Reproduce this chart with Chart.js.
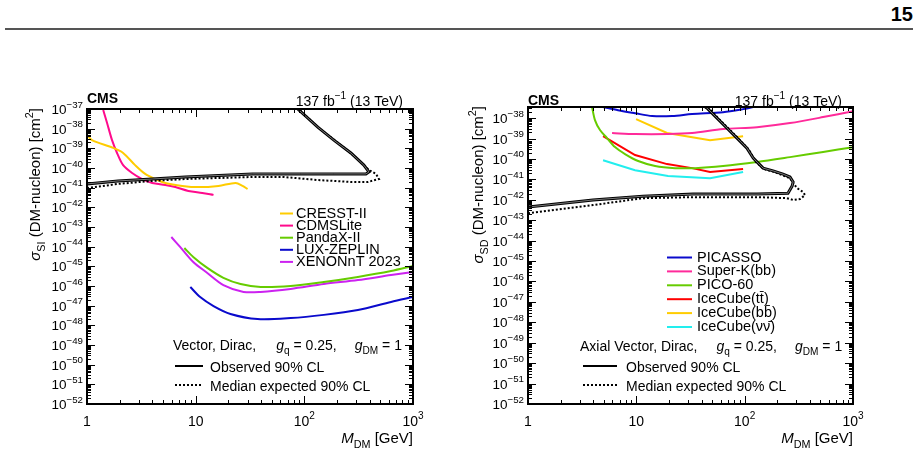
<!DOCTYPE html>
<html>
<head>
<meta charset="utf-8">
<script src="https://cdn.jsdelivr.net/npm/chart.js@4.4.1/dist/chart.umd.min.js"></script>
<style>
  body { margin: 0; background: #fff; width: 920px; height: 455px; position: relative; overflow: hidden; font-family: "Liberation Sans", Arial, sans-serif; }
  #pageno { position: absolute; right: 7px; top: 3px; font-weight: bold; font-size: 20px; }
  #rule { position: absolute; left: 5px; top: 28px; width: 908px; border-top: 2px solid #555; }
  canvas { position: absolute; top: 60px; }
</style>
</head>
<body>
<div id="pageno">15</div>
<div id="rule"></div>
<canvas id="siChart" width="460" height="395" style="left:0"></canvas>
<canvas id="sdChart" width="460" height="395" style="left:460px"></canvas>
<script>
// ---- spin-independent (vector) panel, M_DM in GeV, sigma in cm^2 ----
const cresstM  = [1.0, 1.11, 1.74, 2.15, 2.77, 3.43, 4.25, 5.25, 7.54, 10.6, 16.2, 23.3, 27.0, 30.0];
const cresstXS = [4.8e-39, 2.6e-39, 1.05e-39, 5.8e-40, 1.4e-40, 5.0e-41, 2.75e-41, 1.74e-41, 1.23e-41, 1.07e-41, 1.23e-41, 1.74e-41, 1.23e-41, 8.5e-42];
const cdmsM  = [1.41, 1.53, 1.70, 1.89, 2.15, 2.6, 3.22, 3.98, 5.25, 6.5, 8.57, 11.5, 14.6];
const cdmsXS = [8.9e-38, 1.95e-38, 2.6e-39, 5.8e-40, 1.4e-40, 5.6e-41, 2.75e-41, 1.74e-41, 1.38e-41, 1.07e-41, 6.8e-42, 5.4e-42, 4.3e-42];
const pandaM  = [7.87, 9.5, 12.8, 18.0, 25.9, 39.6, 74.8, 151, 311, 628, 1000];
const pandaXS = [8.5e-45, 3.0e-45, 8.3e-46, 2.6e-46, 1.26e-46, 8.9e-47, 1.0e-46, 1.6e-46, 2.9e-46, 5.8e-46, 1.05e-45];
const lzM  = [8.93, 11.0, 14.6, 20.9, 37.1, 74.8, 151, 311, 628, 1000];
const lzXS = [8.9e-47, 2.75e-47, 9.6e-48, 3.8e-48, 2.1e-48, 2.35e-48, 3.4e-48, 6.0e-48, 1.55e-47, 2.75e-47];
const xenonM  = [5.97, 7.22, 9.5, 12.8, 18.0, 27.6, 39.6, 74.8, 151, 311, 628, 1000];
const xenonXS = [3.1e-44, 9.5e-45, 1.66e-45, 4.6e-46, 1.12e-46, 5.0e-47, 5.0e-47, 7.1e-47, 1.26e-46, 2.0e-46, 3.6e-46, 5.1e-46];
const siObsM  = [1, 1.93, 3.98, 8.03, 33.4, 92.6, 187, 369, 393, 353, 268, 187, 133, 87];
const siObsXS = [1.55e-41, 2.2e-41, 2.75e-41, 3.5e-41, 5.0e-41, 5.0e-41, 5.0e-41, 5.0e-41, 6.3e-41, 1.4e-40, 5.8e-40, 2.6e-39, 1.2e-38, 1e-37];
const siExpM  = [1, 1.93, 3.98, 8.03, 16.2, 33.4, 64.5, 133, 268, 385, 486, 457, 393, 280, 195, 136, 88.7];
const siExpXS = [9.5e-42, 1.55e-41, 2.2e-41, 2.75e-41, 3.1e-41, 3.5e-41, 3.5e-41, 2.45e-41, 1.95e-41, 1.95e-41, 2.75e-41, 5.0e-41, 7.9e-41, 4.6e-40, 2.3e-39, 1.07e-38, 1e-37];

// ---- spin-dependent (axial vector) panel ----
const picassoM  = [4.93, 6.78, 9.73, 14.0, 21.4, 32.7, 63.2, 96.7, 120];
const picassoXS = [3.5e-38, 2.45e-38, 1.74e-38, 1.26e-38, 1.26e-38, 1.58e-38, 1.95e-38, 2.75e-38, 3.5e-38];
const superkM  = [5.97, 9.73, 19.6, 32.7, 63.2, 130, 262, 530, 1000];
const superkXS = [1.86e-39, 1.66e-39, 1.66e-39, 1.86e-39, 2.9e-39, 3.6e-39, 5.7e-39, 1.12e-38, 2.2e-38];
const picoM  = [3.90, 4.15, 4.62, 5.36, 6.36, 7.86, 10.4, 14.9, 22.8, 34.8, 63.2, 130, 262, 530, 1000];
const picoXS = [3.5e-38, 8.0e-39, 2.6e-39, 1.05e-39, 3.8e-40, 1.74e-40, 7.9e-41, 4.5e-41, 3.55e-41, 3.55e-41, 4.5e-41, 7.1e-41, 1.23e-40, 2.2e-40, 3.8e-40];
const icTTM  = [4.93, 9.73, 19.2, 32.7, 47.9, 96.7];
const icTTXS = [1.3e-39, 1.55e-40, 5.6e-41, 3.55e-41, 2.3e-41, 3.2e-41];
const icBBM  = [9.94, 19.2, 47.9, 96.7];
const icBBXS = [8.9e-39, 1.86e-39, 8.3e-40, 1.3e-39];
const icNNM  = [4.93, 9.73, 19.6, 47.9, 96.7];
const icNNXS = [8.7e-41, 2.8e-41, 1.45e-41, 1.15e-41, 2.3e-41];
const sdObsM  = [1, 3.98, 11.5, 33.4, 130, 251, 274, 280, 262, 226, 183, 148, 139, 120, 105, 85, 68.8, 55.6, 45, 43.2];
const sdObsXS = [4.4e-43, 9.8e-43, 1.5e-42, 1.9e-42, 1.9e-42, 2.1e-42, 4.7e-42, 7.4e-42, 1.3e-41, 1.8e-41, 2.6e-41, 3.55e-41, 5.0e-41, 1.1e-40, 3.4e-40, 1.05e-39, 3.2e-39, 1e-38, 3.1e-38, 3.5e-38];
const sdExpM  = [1, 3.98, 11.5, 33.4, 130, 245, 280, 325, 361, 346, 305, 280, 262, 187, 151, 127, 110, 88.8, 71.8, 58, 46.9];
const sdExpXS = [2.2e-43, 5.5e-43, 1.2e-42, 1.35e-42, 1.35e-42, 1.2e-42, 9.8e-43, 1.1e-42, 1.7e-42, 2.4e-42, 3.7e-42, 6.6e-42, 1.15e-41, 2.3e-41, 3.2e-41, 7.1e-41, 2.7e-40, 9.3e-40, 2.9e-39, 8.9e-39, 3.1e-38];

// ---- axis ticks ----
const xTickVals = [1, 10, 100, 1000];
const xTickLabels = [[['1']], [['10']], [['10'], ['2', '^']], [['10'], ['3', '^']]];
const siTickExps = [-52, -51, -50, -49, -48, -47, -46, -45, -44, -43, -42, -41, -40, -39, -38, -37];
const sdTickExps = [-52, -51, -50, -49, -48, -47, -46, -45, -44, -43, -42, -41, -40, -39, -38];

const FONT = '"Liberation Sans", Arial, Helvetica, sans-serif';

function segInfo(seg, size) {
  const t = seg[0], s = seg[1] || '';
  const small = s.includes('^') || s.includes('_');
  const fs = small ? size * 0.72 : size;
  const dy = s.includes('^') ? -size * 0.48 : s.includes('_') ? size * 0.3 : 0;
  const font = (s.includes('I') ? 'italic ' : '') + (s.includes('B') ? 'bold ' : '') + fs + 'px ' + FONT;
  return { t, font, dy };
}

function richWidth(ctx, segs, size) {
  let w = 0;
  for (const seg of segs) {
    if (typeof seg === 'number') { w += seg; continue; }
    const g = segInfo(seg, size);
    ctx.font = g.font;
    w += ctx.measureText(g.t).width;
  }
  return w;
}

function drawRich(ctx, segs, x, y, size, align) {
  const w = richWidth(ctx, segs, size);
  let cx = align === 'right' ? x - w : align === 'center' ? x - w / 2 : x;
  ctx.textAlign = 'left';
  ctx.textBaseline = 'alphabetic';
  for (const seg of segs) {
    if (typeof seg === 'number') { cx += seg; continue; }
    const g = segInfo(seg, size);
    ctx.font = g.font;
    ctx.fillText(g.t, cx, y + g.dy);
    cx += ctx.measureText(g.t).width;
  }
}

const pts = (m, s) => m.map((v, i) => ({ x: v, y: s[i] }));

function curve(m, s, color, extra) {
  return Object.assign({
    data: pts(m, s), borderColor: color, borderWidth: 2, showLine: true,
    pointRadius: 0, tension: 0.3, fill: false
  }, extra || {});
}
// observed limit: thick black line with a faint hollow core, as in the ROOT plot
const observed = (m, s) => [
  curve(m, s, '#999', { borderWidth: 0.8, tension: 0 }),
  curve(m, s, '#000', { borderWidth: 3, tension: 0 })
];
const expected = (m, s) => curve(m, s, '#000', { borderWidth: 2, tension: 0, borderDash: [2, 2] });

// draws the ROOT-style frame, inward ticks, labels, legend and captions
function decor(p) {
  return {
    id: 'decor',
    afterDraw(chart) {
      const { ctx, chartArea: a, scales: { x, y } } = chart;
      ctx.save();
      ctx.strokeStyle = '#000';
      ctx.fillStyle = '#000';

      ctx.lineWidth = 1;
      ctx.beginPath();
      for (let e = 0; e <= 3; e++) {
        for (let k = 1; k <= 9; k++) {
          const v = k * Math.pow(10, e);
          if (v > x.max * 1.0001) break;
          const px = Math.round(x.getPixelForValue(v)) + 0.5;
          const len = k === 1 ? 8 : 4;
          ctx.moveTo(px, a.bottom); ctx.lineTo(px, a.bottom - len);
          ctx.moveTo(px, a.top); ctx.lineTo(px, a.top + len);
        }
      }
      const e0 = Math.floor(Math.log10(y.min)), e1 = Math.floor(Math.log10(y.max));
      for (let e = e0; e <= e1; e++) {
        for (let k = 1; k <= 9; k++) {
          const v = k * Math.pow(10, e);
          if (v > y.max * 1.0001 || v < y.min * 0.9999) continue;
          const py = Math.round(y.getPixelForValue(v)) + 0.5;
          const len = k === 1 ? 8 : 4;
          ctx.moveTo(a.left, py); ctx.lineTo(a.left + len, py);
          ctx.moveTo(a.right, py); ctx.lineTo(a.right - len, py);
        }
      }
      ctx.stroke();
      ctx.lineWidth = 2;
      ctx.strokeRect(a.left, a.top, a.right - a.left, a.bottom - a.top);

      // tick labels
      xTickVals.forEach((v, i) => drawRich(ctx, xTickLabels[i], x.getPixelForValue(v), 365.5, 14, 'center'));
      p.tickExps.forEach(e => {
        drawRich(ctx, [['10'], ['\u2212' + Math.abs(e), '^']], a.left - 4, y.getPixelForValue(Math.pow(10, e)) + 5, 13.5, 'right');
      });

      // axis titles
      drawRich(ctx, [['M', 'I'], ['DM', '_'], [' [GeV]']], a.right, 383, 15, 'right');
      ctx.save();
      ctx.translate(p.yTitleX, a.top - 1);
      ctx.rotate(-Math.PI / 2);
      drawRich(ctx, p.yTitle, 0, 0, 15, 'right');
      ctx.restore();

      // CMS + luminosity
      drawRich(ctx, [['CMS', 'B']], a.left, p.cmsY, 14, 'left');
      drawRich(ctx, [['137 fb'], ['\u22121', '^'], [' (13 TeV)']], p.lumiX, p.lumiY, 14, 'right');

      // experiment legend
      ctx.lineWidth = 2;
      p.legend.forEach((item, i) => {
        const cy = p.legY0 + p.legDy * i;
        ctx.strokeStyle = item.color;
        ctx.beginPath();
        ctx.moveTo(p.legLine[0], cy + 1); ctx.lineTo(p.legLine[1], cy + 1);
        ctx.stroke();
        drawRich(ctx, [[item.label]], p.legText, cy + 5, 14.5, 'left');
      });

      // model + CMS limit legend
      drawRich(ctx, p.model, p.modelX, p.modelY, 14, 'left');
      ctx.strokeStyle = '#000';
      ctx.beginPath();
      ctx.moveTo(p.limLine[0], p.limY[0]); ctx.lineTo(p.limLine[1], p.limY[0]);
      ctx.stroke();
      ctx.setLineDash([2, 2]);
      ctx.beginPath();
      ctx.moveTo(p.limLine[0], p.limY[1]); ctx.lineTo(p.limLine[1], p.limY[1]);
      ctx.stroke();
      ctx.setLineDash([]);
      drawRich(ctx, [['Observed 90% CL']], p.limText, p.limY[0] + 6, 14, 'left');
      drawRich(ctx, [['Median expected 90% CL']], p.limText, p.limY[1] + 6, 14, 'left');
      ctx.restore();
    }
  };
}

function panel(id, p) {
  return new Chart(document.getElementById(id), {
    type: 'scatter',
    data: { datasets: p.datasets },
    options: {
      responsive: false,
      animation: false,
      devicePixelRatio: 1,
      layout: { padding: p.pad },
      plugins: { legend: { display: false }, tooltip: { enabled: false } },
      scales: {
        x: {
          type: 'logarithmic', min: 1, max: 1000,
          grid: { display: false }, border: { display: false }, ticks: { display: false },
          afterFit: s => { s.height = 51; }
        },
        y: {
          type: 'logarithmic', min: p.yMin, max: p.yMax,
          grid: { display: false }, border: { display: false }, ticks: { display: false },
          afterFit: s => { s.width = p.yWidth; }
        }
      }
    },
    plugins: [decor(p)]
  });
}

panel('siChart', {
  yMin: 1e-52, yMax: 1e-37, tickExps: siTickExps,
  pad: { left: 0, top: 49, right: 47, bottom: 0 }, yWidth: 87,
  datasets: [
    ...observed(siObsM, siObsXS),
    expected(siExpM, siExpXS),
    curve(cresstM, cresstXS, '#ffcc00'),
    curve(cdmsM, cdmsXS, '#ff0a8c'),
    curve(pandaM, pandaXS, '#66cc00'),
    curve(lzM, lzXS, '#0a0acc'),
    curve(xenonM, xenonXS, '#cc22f0')
  ],
  yTitle: [['\u03c3', 'I'], ['SI', '_'], [' (DM-nucleon) [cm'], ['2', '^'], [']']],
  yTitleX: 40,
  cmsY: 43, lumiX: 403, lumiY: 46,
  legend: [
    { label: 'CRESST-II', color: '#ffcc00' },
    { label: 'CDMSLite', color: '#ff0a8c' },
    { label: 'PandaX-II', color: '#66cc00' },
    { label: 'LUX-ZEPLIN', color: '#0a0acc' },
    { label: 'XENONnT 2023', color: '#cc22f0' }
  ],
  legY0: 152.5, legDy: 12.1, legLine: [280, 293], legText: 296,
  model: [['Vector, Dirac,'], 20, ['g', 'I'], ['q', '_'], [' = 0.25,'], 18, ['g', 'I'], ['DM', '_'], [' = 1']],
  modelX: 173, modelY: 290,
  limLine: [175, 203], limY: [306, 325], limText: 210
});

panel('sdChart', {
  yMin: 1e-52, yMax: 3.5e-38, tickExps: sdTickExps,
  pad: { left: 0, top: 47, right: 67, bottom: 0 }, yWidth: 68,
  datasets: [
    ...observed(sdObsM, sdObsXS),
    expected(sdExpM, sdExpXS),
    curve(picassoM, picassoXS, '#0a0acc'),
    curve(superkM, superkXS, '#ff2a9a'),
    curve(picoM, picoXS, '#66cc00'),
    curve(icTTM, icTTXS, '#ff0000', { tension: 0 }),
    curve(icBBM, icBBXS, '#ffcc00', { tension: 0 }),
    curve(icNNM, icNNXS, '#22eeee', { tension: 0 })
  ],
  yTitle: [['\u03c3', 'I'], ['SD', '_'], [' (DM-nucleon) [cm'], ['2', '^'], [']']],
  yTitleX: 23,
  cmsY: 45, lumiX: 382, lumiY: 46,
  legend: [
    { label: 'PICASSO', color: '#0a0acc' },
    { label: 'Super-K(bb)', color: '#ff2a9a' },
    { label: 'PICO-60', color: '#66cc00' },
    { label: 'IceCube(tt\u0304)', color: '#ff0000' },
    { label: 'IceCube(bb\u0304)', color: '#ffcc00' },
    { label: 'IceCube(\u03bd\u03bd\u0304)', color: '#22eeee' }
  ],
  legY0: 196.5, legDy: 13.9, legLine: [207, 232], legText: 237,
  model: [['Axial Vector, Dirac,'], 19, ['g', 'I'], ['q', '_'], [' = 0.25,'], 18, ['g', 'I'], ['DM', '_'], [' = 1']],
  modelX: 120, modelY: 291,
  limLine: [123, 157], limY: [306, 325], limText: 166
});
</script>
</body>
</html>
